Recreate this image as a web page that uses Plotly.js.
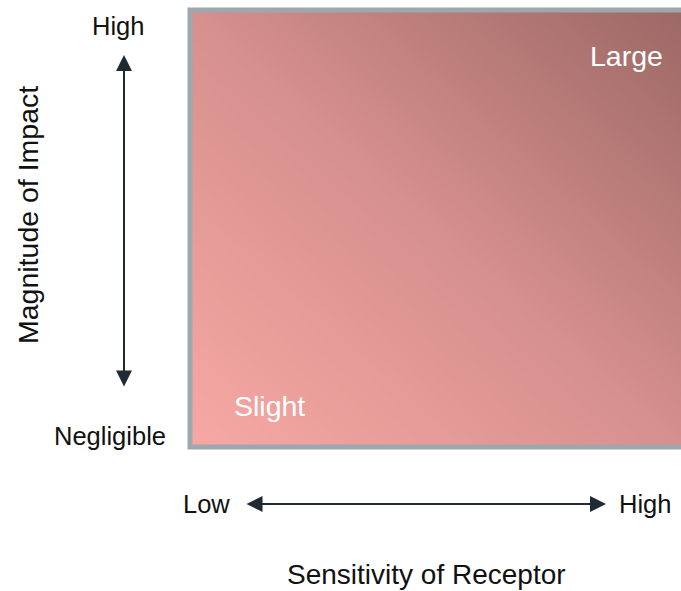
<!DOCTYPE html>
<html>
<head>
<meta charset="utf-8">
<script src="https://cdn.plot.ly/plotly-3.0.1.min.js"></script>
<style>html,body{margin:0;padding:0;background:#fff;}#chart{width:681px;height:591px;}</style>
</head>
<body>
<div id="chart"></div>
<script>
// Gradient corner intensities (0 = low sensitivity & negligible impact, 2 = high & large)
var gridX = [0, 1];
var gridY = [0, 1];
var intensity = [[0, 1], [1, 2]];
var gradientColors = [[0, '#f7a8a4'], [0.5, '#d6908d'], [1, '#9c6865']];

var xAxisTitle = 'Sensitivity of Receptor';
var yAxisTitle = 'Magnitude of Impact';
var xEndLabels = ['Low', 'High'];
var yEndLabels = ['Negligible', 'High'];
var cornerLabels = ['Slight', 'Large'];

var FONT = 'Liberation Sans, Arial, sans-serif';
var DARK = '#1f2a33';

var trace = {
  type: 'heatmap',
  x: gridX, y: gridY, z: intensity,
  zsmooth: 'best',
  colorscale: gradientColors,
  showscale: false,
  hoverinfo: 'skip'
};

function label(text, x, y, size, color, angle) {
  return {xref: 'paper', yref: 'paper', x: x, y: y, text: text, showarrow: false,
          xanchor: 'center', yanchor: 'middle', textangle: angle || 0, borderpad: 0,
          font: {family: FONT, size: size, color: color}};
}

var layout = {
  width: 681, height: 591,
  margin: {l: 190, r: 0, t: 10, b: 144},
  paper_bgcolor: '#ffffff', plot_bgcolor: '#ffffff',
  xaxis: {range: [0, 1], showgrid: false, zeroline: false, showticklabels: false, ticks: '', showline: false, fixedrange: true},
  yaxis: {range: [0, 1], showgrid: false, zeroline: false, showticklabels: false, ticks: '', showline: false, fixedrange: true},
  shapes: [{type: 'rect', xref: 'paper', yref: 'paper', x0: 0, x1: 1.1, y0: 0, y1: 1,
            line: {color: '#9ea7ae', width: 5}, layer: 'above'}],
  annotations: [
    // vertical double arrow
    {xref: 'paper', yref: 'paper', x: -0.1344, y: 0.897, ax: 0, ay: 333, text: '',
     showarrow: true, arrowhead: 2, startarrowhead: 2, arrowside: 'end+start',
     arrowwidth: 2, arrowsize: 1.6, startarrowsize: 1.6, arrowcolor: DARK},
    // horizontal double arrow
    {xref: 'paper', yref: 'paper', x: 0.8473, y: -0.1304, ax: -361, ay: 0, text: '',
     showarrow: true, arrowhead: 2, startarrowhead: 2, arrowside: 'end+start',
     arrowwidth: 2, arrowsize: 1.6, startarrowsize: 1.6, arrowcolor: DARK},
    label(yEndLabels[1], -0.1466, 0.9634, 25.5, '#111111'),
    label(yEndLabels[0], -0.1629, 0.0252, 25.5, '#111111'),
    label(xEndLabels[0], 0.0346, -0.1304, 25.5, '#111111'),
    label(xEndLabels[1], 0.9267, -0.1304, 25.5, '#111111'),
    label(cornerLabels[1], 0.890, 0.8947, 28.5, '#ffffff'),
    label(cornerLabels[0], 0.1629, 0.0938, 28.5, '#ffffff'),
    label(xAxisTitle, 0.4807, -0.2929, 28, '#111111'),
    label(yAxisTitle, -0.3299, 0.5309, 28.5, '#111111', -90)
  ]
};

Plotly.newPlot('chart', [trace], layout, {displayModeBar: false, staticPlot: true});
</script>
</body>
</html>
